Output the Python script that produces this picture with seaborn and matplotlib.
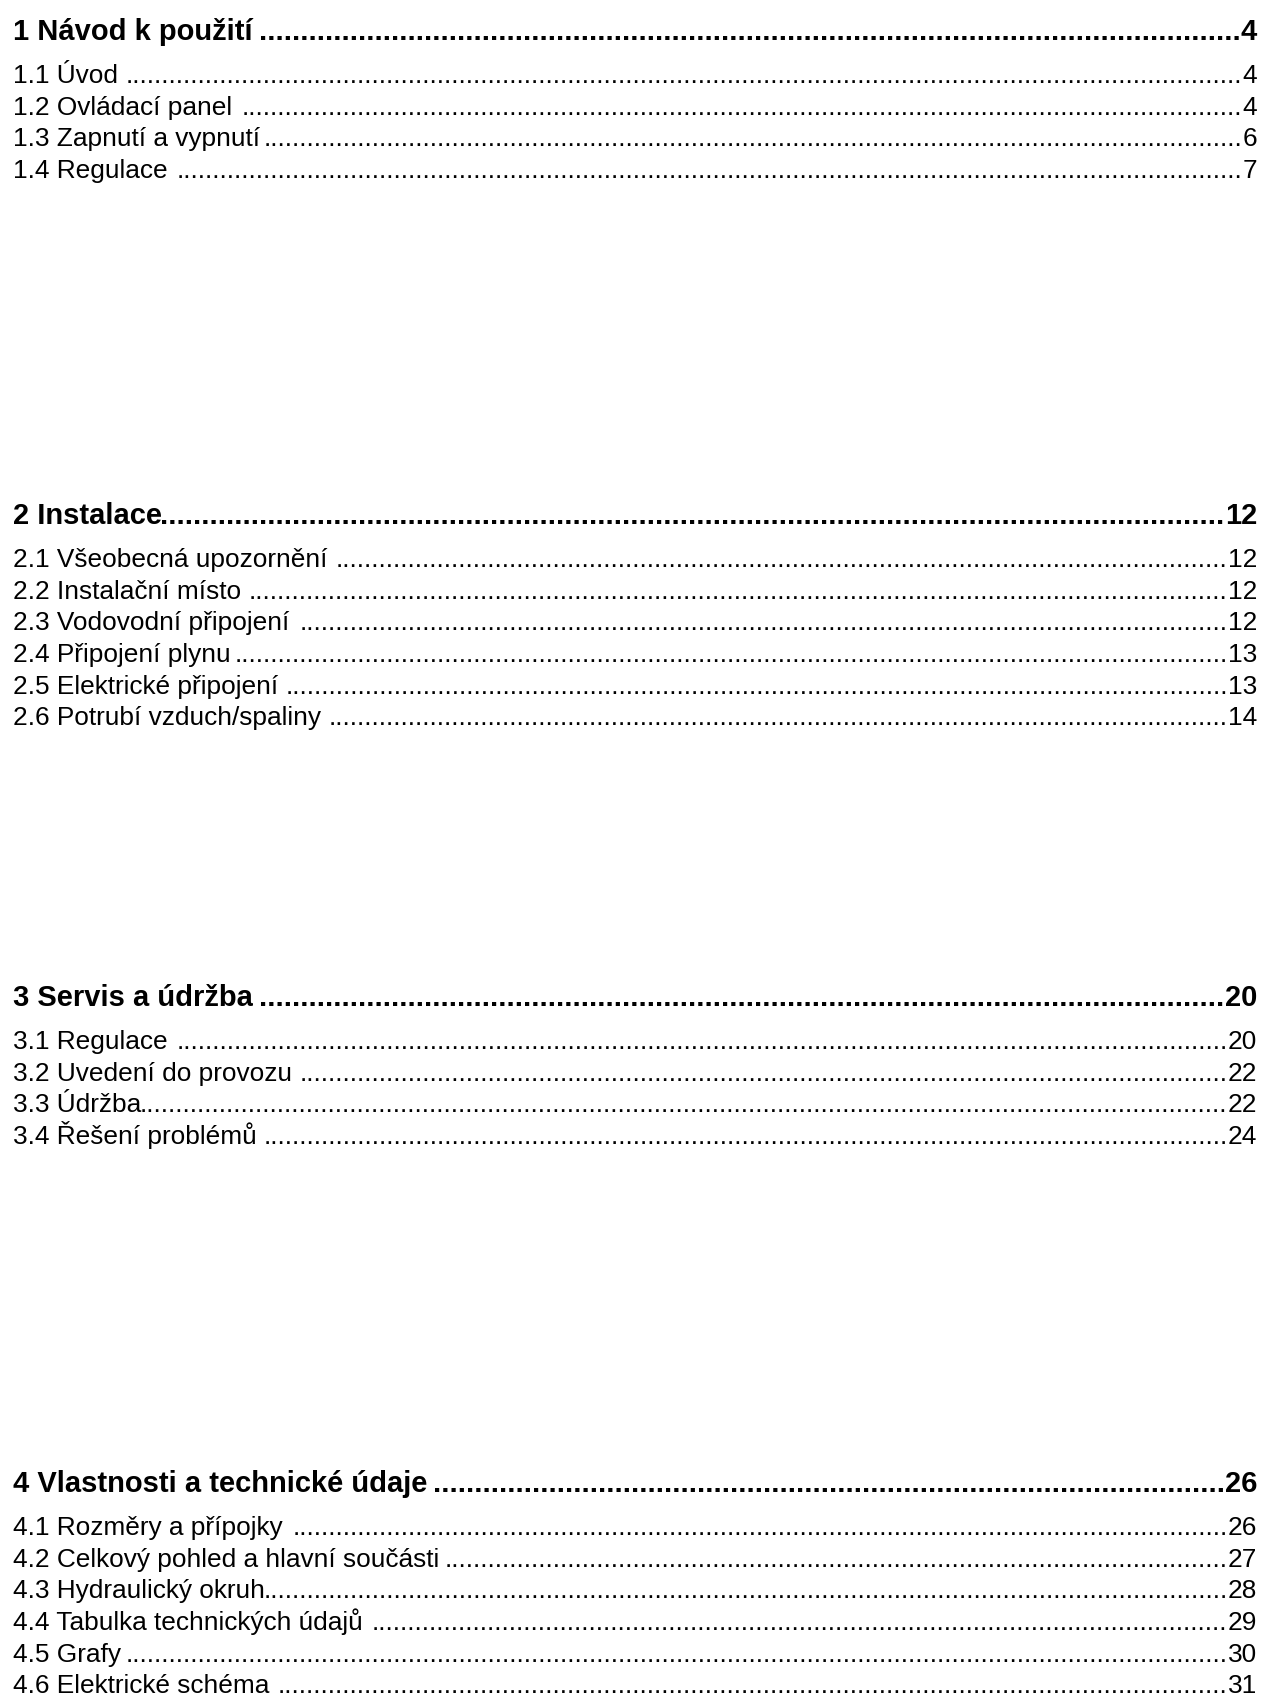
import matplotlib
matplotlib.use("Agg")
import matplotlib.pyplot as plt
import seaborn as sns

# --- table of contents data (trailing space = space before the leader) ---
chapters = ["1 Návod k použití ", "2 Instalace", "3 Servis a údržba ",
            "4 Vlastnosti a technické údaje"]
chapter_pages = [4, 12, 20, 26]

sections_1 = ["1.1 Úvod ", "1.2 Ovládací panel ", "1.3 Zapnutí a vypnutí", "1.4 Regulace "]
pages_1 = [4, 4, 6, 7]

sections_2 = ["2.1 Všeobecná upozornění ", "2.2 Instalační místo ", "2.3 Vodovodní připojení ",
              "2.4 Připojení plynu", "2.5 Elektrické připojení ", "2.6 Potrubí vzduch/spaliny "]
pages_2 = [12, 12, 12, 13, 13, 14]

sections_3 = ["3.1 Regulace ", "3.2 Uvedení do provozu ", "3.3 Údržba", "3.4 Řešení problémů "]
pages_3 = [20, 22, 22, 24]

sections_4 = ["4.1 Rozměry a přípojky ", "4.2 Celkový pohled a hlavní součásti ",
              "4.3 Hydraulický okruh", "4.4 Tabulka technických údajů ", "4.5 Grafy",
              "4.6 Elektrické schéma "]
pages_4 = [26, 27, 28, 29, 30, 31]

all_sections = [sections_1, sections_2, sections_3, sections_4]
all_pages = [pages_1, pages_2, pages_3, pages_4]

# layout (pixels)
W, H = 1263, 1699
left_x, right_x = 13, 1257
heading_y = [40, 524, 1006, 1492]
first_offset = 43
line_step = 31.7
heading_size = 21
entry_size = 18.9

sns.set_theme(style="white")
plt.rcParams["font.family"] = ["Liberation Sans", "DejaVu Sans"]

fig = plt.figure(figsize=(W / 100, H / 100), dpi=100)
ax = fig.add_axes([0, 0, 1, 1])
ax.set_xlim(0, W)
ax.set_ylim(H, 0)
ax.axis("off")

rows = []
for i, chap in enumerate(chapters):
    rows.append((chap, chapter_pages[i], heading_y[i], "bold", heading_size))
    for k, (sec, pg) in enumerate(zip(all_sections[i], all_pages[i])):
        y = heading_y[i] + first_offset + k * line_step
        rows.append((sec, pg, y, "normal", entry_size))

placed = []
for label, page, y, weight, size in rows:
    t_lab = ax.text(left_x, y, label.rstrip(), ha="left", va="baseline",
                    fontsize=size, fontweight=weight, color="black")
    t_num = ax.text(right_x, y, str(page), ha="right", va="baseline",
                    fontsize=size, fontweight=weight, color="black")
    # helpers to measure dot and space widths
    t_dot = ax.text(0, y, "." * 100, ha="left", va="baseline",
                    fontsize=size, fontweight=weight, alpha=0)
    t_sp = ax.text(0, y, "a" + " " * 20 + "a", ha="left", va="baseline",
                   fontsize=size, fontweight=weight, alpha=0)
    t_aa = ax.text(0, y, "aa", ha="left", va="baseline",
                   fontsize=size, fontweight=weight, alpha=0)
    placed.append((t_lab, t_num, t_dot, t_sp, t_aa, label.endswith(" "), y, weight, size))

fig.canvas.draw()
renderer = fig.canvas.get_renderer()

# fill dot leaders between label and page number
for t_lab, t_num, t_dot, t_sp, t_aa, gap, y, weight, size in placed:
    lab_right = t_lab.get_window_extent(renderer).x1
    num_left = t_num.get_window_extent(renderer).x0
    dot_w = t_dot.get_window_extent(renderer).width / 100
    sp_w = (t_sp.get_window_extent(renderer).width - t_aa.get_window_extent(renderer).width) / 20
    for t in (t_dot, t_sp, t_aa):
        t.remove()
    start = lab_right + (sp_w if gap else 0)
    n = int((num_left - start + 2) // dot_w)
    if n > 0:
        ax.text(num_left, y, "." * n, ha="right", va="baseline",
                fontsize=size, fontweight=weight, color="black")

fig.savefig("out.png", dpi=100)
plt.close(fig)
